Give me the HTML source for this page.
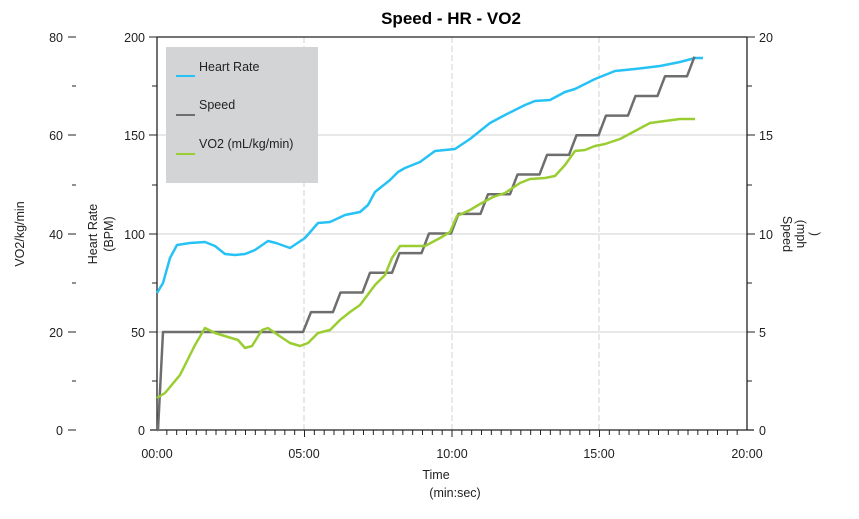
<!DOCTYPE html>
<html><head><meta charset="utf-8"><style>
body{margin:0;background:#fff;}
svg{display:block;font-family:"Segoe UI","Liberation Sans",sans-serif;}
</style></head><body>
<svg width="859" height="519" viewBox="0 0 859 519" xmlns="http://www.w3.org/2000/svg">
<text x="451" y="24" text-anchor="middle" font-size="17" font-weight="bold" fill="#000">Speed - HR - VO2</text>
<g stroke="#d0d0d0" stroke-width="1">
<line x1="157" y1="332" x2="747" y2="332"/><line x1="157" y1="234" x2="747" y2="234"/><line x1="157" y1="135" x2="747" y2="135"/>
</g>
<g stroke="#d0d0d0" stroke-width="1" stroke-dasharray="6,3">
<line x1="304" y1="37" x2="304" y2="430"/><line x1="452" y1="37" x2="452" y2="430"/><line x1="599" y1="37" x2="599" y2="430"/>
</g>
<g stroke="#222" stroke-width="1.3" fill="none">
<line x1="157" y1="37" x2="747" y2="37"/>
<line x1="157" y1="37" x2="157" y2="430"/>
<line x1="747" y1="37" x2="747" y2="430"/>
<line x1="150" y1="430" x2="754" y2="430"/>
</g>
<g id="xt" stroke="#222" stroke-width="1"></g>
<g stroke="#222" stroke-width="1">
<line x1="68" y1="37" x2="76" y2="37"/><line x1="72" y1="86" x2="76" y2="86"/>
<line x1="68" y1="135" x2="76" y2="135"/><line x1="72" y1="185" x2="76" y2="185"/>
<line x1="68" y1="234" x2="76" y2="234"/><line x1="72" y1="283" x2="76" y2="283"/>
<line x1="68" y1="332" x2="76" y2="332"/><line x1="72" y1="381" x2="76" y2="381"/>
<line x1="68" y1="430" x2="76" y2="430"/>
<line x1="149" y1="37" x2="157" y2="37"/><line x1="152" y1="86" x2="157" y2="86"/>
<line x1="149" y1="135" x2="157" y2="135"/><line x1="152" y1="185" x2="157" y2="185"/>
<line x1="149" y1="234" x2="157" y2="234"/><line x1="152" y1="283" x2="157" y2="283"/>
<line x1="149" y1="332" x2="157" y2="332"/><line x1="152" y1="381" x2="157" y2="381"/>
<line x1="747" y1="37" x2="755" y2="37"/><line x1="747" y1="86" x2="752" y2="86"/>
<line x1="747" y1="135" x2="755" y2="135"/><line x1="747" y1="185" x2="752" y2="185"/>
<line x1="747" y1="234" x2="755" y2="234"/><line x1="747" y1="283" x2="752" y2="283"/>
<line x1="747" y1="332" x2="755" y2="332"/><line x1="747" y1="381" x2="752" y2="381"/>
</g>
<g font-size="12.5" fill="#222">
<g text-anchor="end">
<text x="63" y="42">80</text><text x="63" y="140">60</text><text x="63" y="239">40</text><text x="63" y="337">20</text><text x="63" y="435">0</text>
<text x="145" y="42">200</text><text x="145" y="140">150</text><text x="145" y="239">100</text><text x="145" y="337">50</text><text x="145" y="435">0</text>
</g>
<text x="759" y="42">20</text><text x="759" y="140">15</text><text x="759" y="239">10</text><text x="759" y="337">5</text><text x="759" y="435">0</text>
<g text-anchor="middle">
<text x="157" y="458">00:00</text><text x="304" y="458">05:00</text><text x="452" y="458">10:00</text><text x="599" y="458">15:00</text><text x="747" y="458">20:00</text>
</g>
<text x="436" y="479" text-anchor="middle">Time</text>
<text x="455" y="497" text-anchor="middle">(min:sec)</text>
<text transform="translate(24,234) rotate(-90)" text-anchor="middle">VO2/kg/min</text>
<text transform="translate(97,234) rotate(-90)" text-anchor="middle">Heart Rate</text>
<text transform="translate(113,234) rotate(-90)" text-anchor="middle">(BPM)</text>
<text transform="translate(783,234) rotate(90)" text-anchor="middle">Speed</text>
<text transform="translate(797,234) rotate(90)" text-anchor="middle">(mph</text>
<text transform="translate(811,234) rotate(90)" text-anchor="middle">)</text>
</g>
<polyline fill="none" stroke="#27c2f5" stroke-width="2.5" stroke-linejoin="round" points="157,293 163,283 170,258 177,245 190,243 205,242 215,246 225,254 235,255 245,254 255,250 268,241 276,243 290,248 305,238 318,223 330,222 345,215 360,212 368,205 375,192 390,180 398,172 405,168 420,162 435,151 455,149 470,139 490,123 505,115 525,105 535,101 550,100 565,92 575,89 595,79 615,71 635,69 660,66 680,62 695,58 703,58"/>
<polyline id="spd" fill="none" stroke="#6e6e6e" stroke-width="2.5" stroke-linejoin="round" points=""/>
<polyline fill="none" stroke="#9acd32" stroke-width="2.5" stroke-linejoin="round" points="157,398 165,393 180,375 195,345 205,328 215,333 228,337 238,340 245,348 252,346 262,330 268,328 278,335 290,343 300,346 308,343 318,333 330,330 340,320 350,312 360,305 375,285 385,275 392,258 400,246 410,246 425,246 440,238 450,232 457,216 470,210 480,204 493,197 505,193 520,183 530,179 545,178 555,176 565,165 575,151 585,150 595,146 605,144 620,139 635,131 650,123 665,121 680,119 695,119"/>
<rect x="166" y="47" width="152" height="136" fill="#d3d4d6"/>
<line x1="176" y1="76" x2="195" y2="76" stroke="#27c2f5" stroke-width="2"/>
<line x1="176" y1="115" x2="195" y2="115" stroke="#6e6e6e" stroke-width="2"/>
<line x1="176" y1="154" x2="195" y2="154" stroke="#9acd32" stroke-width="2"/>
<g font-size="12.5" fill="#222">
<text x="199" y="71">Heart Rate</text><text x="199" y="109">Speed</text><text x="199" y="148">VO2 (mL/kg/min)</text>
</g>
</svg>
<script>
var xt=document.getElementById('xt'),s='';
for(var i=1;i<60;i++){var x=157+i*590/60;s+='<line x1="'+x+'" y1="430" x2="'+x+'" y2="'+(i%15==0?437:435)+'"/>';}
xt.innerHTML=s;
var p=[[157,430],[158,430],[163,332],[303,332]];
for(var k=6;k<=19;k++){var x=311+(k-6)*29.5,y=430-k*19.65;p.push([x,y]);if(k<19)p.push([x+22,y]);}
document.getElementById('spd').setAttribute('points',p.map(function(a){return a.join(',')}).join(' '));
</script>
</body></html>
